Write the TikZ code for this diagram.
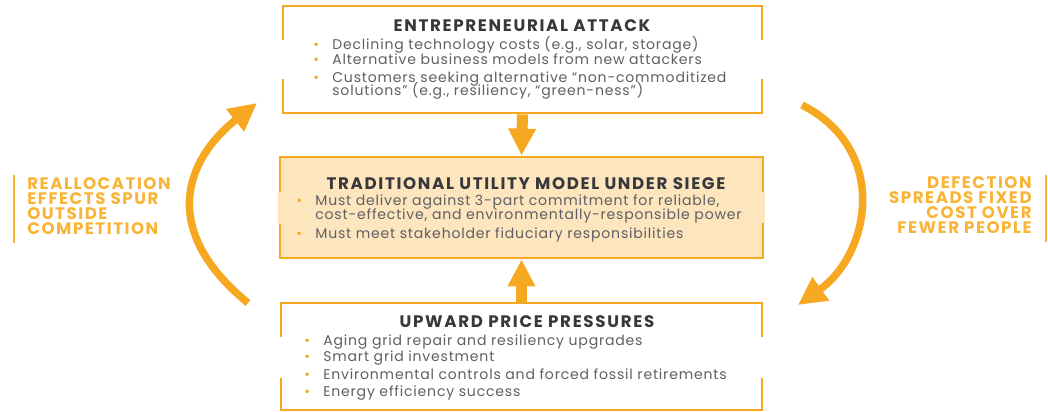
\documentclass[tikz,border=0pt]{standalone}
\usepackage{fontspec}
\setmainfont{Poppins}
\usetikzlibrary{arrows.meta}
\definecolor{uorange}{RGB}{247,168,33}
\definecolor{ulabel}{RGB}{249,180,55}
\definecolor{upeach}{RGB}{253,229,190}
\definecolor{utext}{RGB}{95,95,100}
\definecolor{utitle}{RGB}{55,55,60}
\newcommand\bul{\llap{\textcolor{uorange}{\textbullet}\hspace{7.5pt}}}
\newcommand\tightlines{\lineskiplimit=-20pt\lineskip=0pt}
\tikzset{
  box/.style={draw=uorange,line width=1.6pt},
  title/.style={inner sep=0pt,anchor=base,text=utitle,font=\fontsize{9.5}{10}\selectfont\bfseries\addfontfeatures{LetterSpace=10}},
  item/.style={inner sep=0pt,anchor=base west,align=left,text=utext,font=\fontsize{8}{7.95}\selectfont\tightlines\addfontfeatures{LetterSpace=5.7}},
  side/.style={inner sep=0pt,text=ulabel,font=\fontsize{9.5}{8.35}\selectfont\tightlines\bfseries\addfontfeatures{LetterSpace=9}},
  gap/.style={line width=2.4pt},
  fat/.style={uorange,line width=0.22cm,-{Triangle[length=0.54cm,width=0.52cm]}},
  bow/.style={uorange,line width=0.15cm,-{Triangle[length=0.56cm,width=0.54cm]}}
}
\begin{document}
\begin{tikzpicture}[x=0.02cm,y=-0.02cm]
\useasboundingbox (0,0) rectangle (1048,412);
% the three boxes
\node[box,minimum width=9.58cm,minimum height=2.14cm] (attack) at (522.5,59.5) {};
\node[box,fill=upeach,minimum width=9.66cm,minimum height=2.02cm] (siege) at (521.5,207.5) {};
\node[box,minimum width=9.62cm,minimum height=2.14cm] (pressure) at (521.5,356.5) {};
% breaks in the sides
\draw[gap,white] (283,40)--(283,79) (762,40)--(762,79);
\draw[gap,upeach] (280,192)--(280,224) (763,192)--(763,223);
\draw[gap,white] (281,337)--(281,378) (762,337)--(762,378);
% box texts (multi-line items sit on their last line)
\node[title] (attackt) at (522,32) {ENTREPRENEURIAL ATTACK};
\node[item] (a1) at (332,50) {\bul Declining technology costs (e.g., solar, storage)};
\node[item] (a2) at (332,65) {\bul Alternative business models from new attackers};
\node[item] (a3) at (332,96) {\bul Customers seeking alternative “non-commoditized\\solutions” (e.g., resiliency, “green-ness”)};
\node[title] (siegeт) at (526,189) {TRADITIONAL UTILITY MODEL UNDER SIEGE};
\node[item] (s1) at (315,219) {\bul Must deliver against 3-part commitment for reliable,\\cost-effective, and environmentally-responsible power};
\node[item] (s2) at (315,238) {\bul Must meet stakeholder fiduciary responsibilities};
\node[title] (pressuret) at (527,327) {UPWARD PRICE PRESSURES};
\node[item] (p1) at (323,345) {\bul Aging grid repair and resiliency upgrades};
\node[item] (p2) at (323,361) {\bul Smart grid investment};
\node[item] (p3) at (323,379) {\bul Environmental controls and forced fossil retirements};
\node[item] (p4) at (323,396) {\bul Energy efficiency success};
% straight arrows
\draw[fat] (attack.south)--(siege.north);
\draw[fat] (pressure.north)--(siege.south);
% side loop
\coordinate (lfoot) at (248,303);
\coordinate (lhead) at (257,103);
\coordinate (rfoot) at (802,105);
\coordinate (rhead) at (798,305);
\draw[bow] (lfoot) .. controls (159,230) and (185,160) .. (lhead);
\draw[bow] (rfoot) .. controls (890,150) and (870,254) .. (rhead);
% side labels
\node[side,anchor=base west,align=left] (realloc) at (27,234) {REALLOCATION\\EFFECTS SPUR\\OUTSIDE\\COMPETITION};
\node[side,anchor=base east,align=right] (defect) at (1032,233) {DEFECTION\\SPREADS FIXED\\COST OVER\\FEWER PEOPLE};
\coordinate (lbar) at (14,175);
\coordinate (rbar) at (1046,175);
\draw[ulabel,line width=0.8pt] (lbar)--++(0,68);
\draw[ulabel,line width=0.8pt] (rbar)--++(0,67);
\end{tikzpicture}
\end{document}
